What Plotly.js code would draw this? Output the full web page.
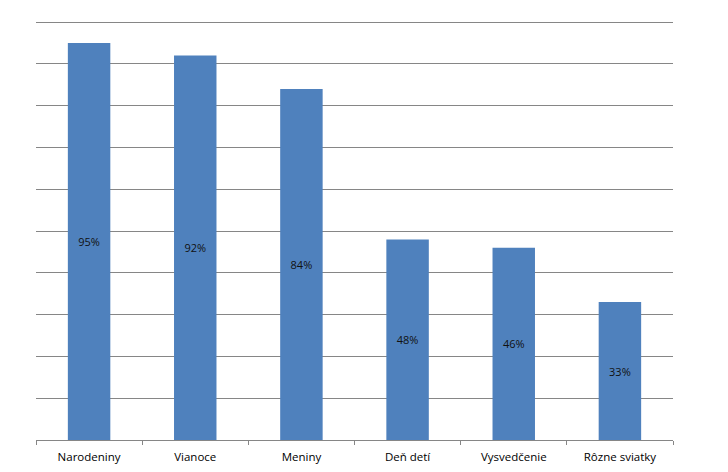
<!DOCTYPE html>
<html>
<head>
<meta charset="utf-8">
<script src="https://cdn.plot.ly/plotly-3.0.1.min.js"></script>
<style>html,body{margin:0;padding:0;background:#fff;}#chart{width:728px;height:472px;}</style>
</head>
<body>
<div id="chart"></div>
<script>
var categories = ["Narodeniny", "Vianoce", "Meniny", "Deň detí", "Vysvedčenie", "Rôzne sviatky"];
var values = [95, 92, 84, 48, 46, 33];
var labels = values.map(function (v) { return v + "%"; });

var trace = {
  type: "bar",
  x: categories,
  y: values,
  text: labels,
  textposition: "inside",
  insidetextanchor: "middle",
  textangle: 0,
  textfont: {family: "Open Sans, sans-serif", size: 11, color: "#111"},
  marker: {color: "#4F81BD", line: {width: 0}},
  width: 0.4,
  hoverinfo: "none"
};

var layout = {
  width: 728,
  height: 472,
  margin: {l: 36, r: 55, t: 21, b: 32, pad: 0},
  paper_bgcolor: "#fff",
  plot_bgcolor: "#fff",
  showlegend: false,
  font: {family: "Open Sans, sans-serif", size: 11, color: "#000"},
  xaxis: {
    type: "category",
    showline: true,
    linecolor: "#868686",
    linewidth: 1,
    ticks: "outside",
    tickson: "boundaries",
    ticklen: 4,
    tickcolor: "#868686",
    ticklabelstandoff: 6,
    tickfont: {family: "Open Sans, sans-serif", size: 11.5, color: "#000"},
    showgrid: false,
    zeroline: false,
    fixedrange: true
  },
  yaxis: {
    range: [0, 100.25],
    dtick: 10,
    showgrid: true,
    gridcolor: "#868686",
    gridwidth: 1,
    showticklabels: false,
    showline: false,
    zeroline: false,
    ticks: "",
    fixedrange: true
  }
};

Plotly.newPlot("chart", [trace], layout, {displayModeBar: false, staticPlot: true});
</script>
</body>
</html>
